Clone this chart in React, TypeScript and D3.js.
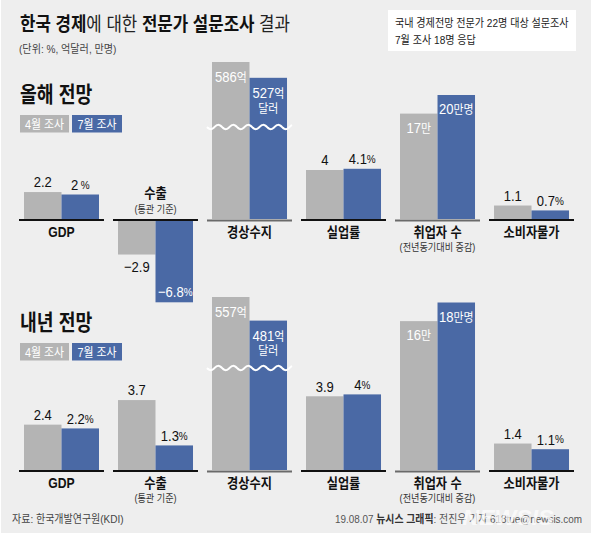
import React from 'react';
import * as d3 from 'd3';

// ---------- data ----------
const categories = ['GDP', '수출', '경상수지', '실업률', '취업자 수', '소비자물가'];
const subLabels = ['', '(통관 기준)', '', '', '(전년동기대비 증감)', ''];
const kinds = ['pct', 'pct', 'ca', 'pct', 'emp', 'pct'];
const seriesNames = ['4월 조사', '7월 조사'];
const thisYearApril = [2.2, -2.9, 586, 4, 17, 1.1];
const thisYearJuly = [2, -6.8, 527, 4.1, 20, 0.7];
const nextYearApril = [2.4, 3.7, 557, 3.9, 16, 1.4];
const nextYearJuly = [2.2, 1.3, 481, 4, 18, 1.1];

const title = [
  { t: '한국 경제', b: true },
  { t: '에 대한 ', b: false },
  { t: '전문가 설문조사', b: true },
  { t: ' 결과', b: false },
];
const unitNote = '(단위: %, 억달러, 만명)';
const noteLines = ['국내 경제전망 전문가 22명 대상 설문조사', '7월 조사 18명 응답'];
const sourceText = '자료: 한국개발연구원(KDI)';

// ---------- style ----------
const W = 591;
const H = 547;
const BG = '#eeeeee';
const GRAY = '#b4b4b4';
const BLUE = '#4a69a5';
const COLORS = [GRAY, BLUE];
const FONT = "'Liberation Sans', 'Noto Sans CJK KR', sans-serif";
const SX = 0.87;

type TP = {
  x: number; y: number; size: number; weight?: any; fill?: string;
  anchor?: 'start' | 'middle' | 'end'; sx?: number; children: any; opacity?: number; italic?: boolean;
};
function T({ x, y, size, weight = 'normal', fill = '#111', anchor = 'start', sx = SX, children, opacity, italic }: TP) {
  return (
    <text
      transform={`translate(${x},${y}) scale(${sx},1)`}
      fontSize={size}
      fontWeight={weight}
      fill={fill}
      textAnchor={anchor}
      dominantBaseline="central"
      fontFamily={FONT}
      opacity={opacity}
      fontStyle={italic ? 'italic' : undefined}
    >
      {children}
    </text>
  );
}

const fmt = (v: number) => (v < 0 ? '−' : '') + d3.format('~g')(Math.abs(v));

const panels = [
  {
    name: '올해 전망', titleY: 94, legendY: 115, base: 219,
    april: thisYearApril, july: thisYearJuly,
    pctPx: 12.25, caMax: 586, caPx: 157, empMax: 20, empPx: 124, waveOff: 92,
  },
  {
    name: '내년 전망', titleY: 322, legendY: 343, base: 470,
    april: nextYearApril, july: nextYearJuly,
    pctPx: 18.9, caMax: 557, caPx: 173, empMax: 18, empPx: 167.5, waveOff: 102,
  },
];

const xBand = d3.scaleBand<string>().domain(categories).range([19, 574]).paddingInner(0.096).paddingOuter(0);
const inner = d3.scaleBand<number>().domain([0, 1]).range([5, 80]).padding(0);

function Panel({ p }: { p: typeof panels[number] }) {
  const yPct = d3.scaleLinear().domain([0, 1]).range([p.base, p.base - p.pctPx]);
  const yCa = d3.scaleLinear().domain([0, p.caMax]).range([p.base, p.base - p.caPx]);
  const yEmp = d3.scaleLinear().domain([0, p.empMax]).range([p.base, p.base - p.empPx]);
  const scaleOf = (k: string) => (k === 'ca' ? yCa : k === 'emp' ? yEmp : yPct);
  const bw = xBand.bandwidth();

  const legendBoxes = [
    { x: 20, w: 49 },
    { x: 72, w: 50 },
  ];

  return (
    <g>
      <T x={20} y={p.titleY} size={22} weight="bold" sx={0.83}>{p.name}</T>
      {seriesNames.map((s, i) => (
        <g key={s}>
          <rect x={legendBoxes[i].x} y={p.legendY} width={legendBoxes[i].w} height={17.5} fill={COLORS[i]} />
          <T x={legendBoxes[i].x + legendBoxes[i].w / 2} y={p.legendY + 9} size={12.5} fill="#fff" anchor="middle">{s}</T>
        </g>
      ))}
      {categories.map((c, ci) => {
        const gx = xBand(c)!;
        const kind = kinds[ci];
        const sc = scaleOf(kind);
        const vals = [p.april[ci], p.july[ci]];
        const hasNeg = vals.some((v) => v < 0);
        const brokenOrOther = kind !== 'pct';
        const wave = d3.line<number>()
          .x((d) => gx + d)
          .y((d) => p.base - p.waveOff + 2.2 * Math.sin((2 * Math.PI * d) / 15))
          .curve(d3.curveBasis)(d3.range(0, bw + 1, 1));
        return (
          <g key={c}>
            {vals.map((v, si) => {
              const y0 = sc(0);
              const y1 = sc(v);
              const bx = gx + inner(si)!;
              const w = inner.bandwidth();
              const cx = bx + w / 2;
              const top = Math.min(y0, y1);
              const h = Math.abs(y1 - y0);
              let label: any = null;
              if (kind === 'pct') {
                const pctSuffix = si === 1 ? <tspan fontSize={11.5} dx={Number.isInteger(v) && p.base < 300 ? 3 : 0}>%</tspan> : null;
                if (v >= 0) {
                  label = <T x={cx} y={y1 - 10} size={15} anchor="middle">{fmt(v)}{pctSuffix}</T>;
                } else if (si === 0) {
                  label = <T x={cx} y={y1 + 12} size={15} anchor="middle">{fmt(v)}{pctSuffix}</T>;
                } else {
                  label = <T x={cx + 1} y={y1 - 11} size={15} anchor="middle" fill="#fff">{fmt(v)}{pctSuffix}</T>;
                }
              } else if (kind === 'ca') {
                label = (
                  <g>
                    <T x={cx} y={y1 + 15} size={15} anchor="middle" fill="#fff">{fmt(v)}<tspan fontSize={12.5}>억</tspan></T>
                    {si === 1 ? <T x={cx} y={y1 + 30} size={12.5} anchor="middle" fill="#fff">달러</T> : null}
                  </g>
                );
              } else {
                label = (
                  <T x={cx} y={y1 + 14} size={15} anchor="middle" fill="#fff">
                    {fmt(v)}<tspan fontSize={12.5}>{si === 1 ? '만명' : '만'}</tspan>
                  </T>
                );
              }
              return (
                <g key={si}>
                  <rect x={bx} y={top} width={w} height={h} fill={COLORS[si]} />
                  {label}
                </g>
              );
            })}
            {kind === 'ca' ? <path d={wave || ''} fill="none" stroke="#fff" strokeWidth={2} /> : null}
            <line
              x1={gx} x2={gx + bw}
              y1={p.base + (brokenOrOther ? 1.5 : 1)} y2={p.base + (brokenOrOther ? 1.5 : 1)}
              stroke={brokenOrOther ? '#6a6a6a' : '#111'}
              strokeWidth={2}
            />
            {hasNeg ? (
              <g>
                <T x={gx + bw / 2} y={p.base - 26} size={14} weight="bold" anchor="middle">{c}</T>
                <T x={gx + bw / 2} y={p.base - 10} size={10.5} anchor="middle" fill="#333">{subLabels[ci]}</T>
              </g>
            ) : (
              <g>
                <T x={gx + bw / 2} y={p.base + 13.5} size={14} weight="bold" anchor="middle">{c}</T>
                {subLabels[ci] ? (
                  <T x={gx + bw / 2} y={p.base + 28.5} size={10.5} anchor="middle" fill="#333">{subLabels[ci]}</T>
                ) : null}
              </g>
            )}
          </g>
        );
      })}
    </g>
  );
}

export default function App() {
  return (
    <svg
      width={W}
      height={H}
      viewBox={`0 0 ${W} ${H}`}
      style={{ position: 'absolute', left: 0, top: 0, background: '#fff' }}
    >
      <rect x={1} y={0} width={W - 1} height={533} fill={BG} />
      <T x={20} y={25} size={19.5} sx={0.86}>
        {title.map((s, i) => (
          <tspan key={i} fontWeight={s.b ? 'bold' : 'normal'} fill={s.b ? '#111' : '#222'}>{s.t}</tspan>
        ))}
      </T>
      <T x={19} y={49} size={11.6} fill="#444">{unitNote}</T>
      <rect x={388} y={10} width={188} height={41} fill="#fff" />
      {noteLines.map((l, i) => (
        <T key={i} x={395} y={23 + i * 16.5} size={11.6} fill="#222">{l}</T>
      ))}
      {panels.map((p) => (
        <Panel key={p.name} p={p} />
      ))}
      <T x={12} y={519} size={11.5} fill="#444">{sourceText}</T>
      <T x={582} y={519} size={11} fill="#555" anchor="end" sx={0.9}>
        19.08.07 <tspan fontWeight="bold" fill="#333">뉴시스 그래픽</tspan>: 전진우 기자 618tue@newsis.com
      </T>
      <T x={508} y={518} size={22} weight="bold" fill="#fff" anchor="middle" opacity={0.7} italic sx={1.05}>NEWSIS</T>
    </svg>
  );
}
